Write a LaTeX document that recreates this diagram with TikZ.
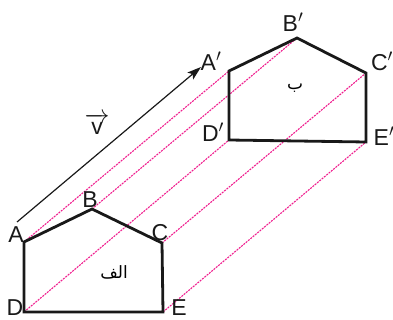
\documentclass[tikz,border=0pt]{standalone}
\usepackage{fontspec}
\setmainfont{Liberation Sans}
\newfontfamily\arabicfont[Script=Arabic]{DejaVu Sans}
\TeXXeTstate=1
\usepackage{tikz}
\usetikzlibrary{arrows.meta}
\definecolor{tracepink}{HTML}{F0208F}

\begin{document}
\begin{tikzpicture}[
    x=1pt, y=-1pt,
    shape outline/.style={draw=black!90, line width=2.8pt, line join=miter},
    trace/.style={draw=tracepink, line width=1.1pt, dash pattern=on 2pt off 1pt},
    vecarrow/.style={-{Stealth[length=14pt, width=9pt, inset=3pt]}, line width=1.2pt, black!90},
    vertex/.style={font=\fontsize{23}{23}\selectfont, inner sep=0pt, text=black!90},
    region/.style={font=\arabicfont\fontsize{17}{17}\selectfont, inner sep=0pt}
]
\useasboundingbox (0,0) rectangle (393,320);

% Original pentagon
\coordinate (A) at (24,242);
\coordinate (B) at (92,209);
\coordinate (C) at (162,243);
\coordinate (D) at (24,312);
\coordinate (E) at (163,312);

% Translated pentagon
\coordinate (A1) at (229,71);
\coordinate (B1) at (297,38);
\coordinate (C1) at (366,73);
\coordinate (D1) at (229,140);
\coordinate (E1) at (366,142);

% Traces from each vertex to its image
\draw[trace] (A) -- (A1);
\draw[trace] (B) -- (B1);
\draw[trace] (C) -- (C1);
\draw[trace] (D) -- (D1);
\draw[trace] (E) -- (E1);

% Outlines
\draw[shape outline] (A) -- (B) -- (C) -- (E) -- (D) -- cycle;
\draw[shape outline] (A1) -- (B1) -- (C1) -- (E1) -- (D1) -- cycle;

% Vector v
\coordinate (v0) at (17,222);
\coordinate (v1) at (201,67);
\draw[vecarrow] (v0) -- (v1);
\node[vertex] (vlabel) at (97,124) {$\overrightarrow{\mbox{v}}$};

% Vertex labels
\node[vertex] (lA) at (16,235) {A};
\node[vertex] (lB) at (90,200) {B};
\node[vertex] (lC) at (160,233) {C};
\node[vertex] (lD) at (15,308) {D};
\node[vertex] (lE) at (179,308) {E};
\node[vertex] (lA1) at (211,61) {A$'$};
\node[vertex] (lB1) at (293,22) {B$'$};
\node[vertex] (lC1) at (382,61) {C$'$};
\node[vertex] (lD1) at (213,132) {D$'$};
\node[vertex] (lE1) at (384,136) {E$'$};

% Region names
\node[region] (alef) at (114,272) {\beginR الف\endR};
\node[region] (be) at (295,88) {\beginR ب\endR};

\end{tikzpicture}
\end{document}
